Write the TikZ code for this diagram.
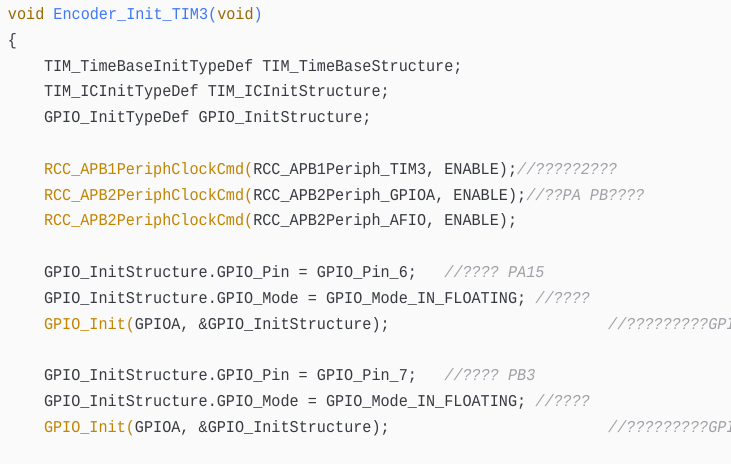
\documentclass[tikz,border=0pt]{standalone}
\usepackage{fontspec}
\setmonofont[FakeStretch=0.919]{Liberation Mono}
\definecolor{bgc}{HTML}{FAFAFA}
\definecolor{txt}{HTML}{383A42}
\definecolor{kw}{HTML}{986801}
\definecolor{fnb}{HTML}{4078F2}
\definecolor{fno}{HTML}{C18401}
\definecolor{cmt}{HTML}{A0A1A7}
\tikzset{
  codeline/.style={anchor=base west, inner sep=0pt, outer sep=0pt, text=txt,
    font=\ttfamily\fontsize{16.5pt}{20pt}\selectfont\frenchspacing},
  cmtline/.style={codeline, text=cmt, font=\ttfamily\itshape\fontsize{16.5pt}{20pt}\selectfont\frenchspacing}
}
\newcommand{\ly}[1]{-19.5pt-(#1-1)*25.8pt}
\newcommand{\cx}[1]{44pt+#1*9.1pt}
\begin{document}
\begin{tikzpicture}[x=1pt,y=1pt]
\fill[bgc] (0,0) rectangle (731,-464);
\useasboundingbox (0,0) rectangle (731,-464);
\begin{scope}
\clip (0,0) rectangle (731,-464);
\node[codeline] (l1) at (8pt,{\ly{1}}) {\textcolor{kw}{void} \textcolor{fnb}{Encoder\_Init\_TIM3(}\textcolor{kw}{void}\textcolor{fnb}{)}};
\node[codeline] (l2) at (8pt,{\ly{2}}) {\{};
\node[codeline] (l3) at (44pt,{\ly{3}}) {TIM\_TimeBaseInitTypeDef TIM\_TimeBaseStructure;};
\node[codeline] (l4) at (44pt,{\ly{4}}) {TIM\_ICInitTypeDef TIM\_ICInitStructure;};
\node[codeline] (l5) at (44pt,{\ly{5}}) {GPIO\_InitTypeDef GPIO\_InitStructure;};
\node[codeline] (l7) at (44pt,{\ly{7}}) {\textcolor{fno}{RCC\_APB1PeriphClockCmd(}RCC\_APB1Periph\_TIM3, ENABLE);};
\node[cmtline] (c7) at ({\cx{52}},{\ly{7}}) {//?????2???};
\node[codeline] (l8) at (44pt,{\ly{8}}) {\textcolor{fno}{RCC\_APB2PeriphClockCmd(}RCC\_APB2Periph\_GPIOA, ENABLE);};
\node[cmtline] (c8) at ({\cx{53}},{\ly{8}}) {//??PA PB????};
\node[codeline] (l9) at (44pt,{\ly{9}}) {\textcolor{fno}{RCC\_APB2PeriphClockCmd(}RCC\_APB2Periph\_AFIO, ENABLE);};
\node[codeline] (l11) at (44pt,{\ly{11}}) {GPIO\_InitStructure.GPIO\_Pin = GPIO\_Pin\_6;};
\node[cmtline] (c11) at ({\cx{44}},{\ly{11}}) {//???? PA15};
\node[codeline] (l12) at (44pt,{\ly{12}}) {GPIO\_InitStructure.GPIO\_Mode = GPIO\_Mode\_IN\_FLOATING;};
\node[cmtline] (c12) at ({\cx{54}},{\ly{12}}) {//????};
\node[codeline] (l13) at (44pt,{\ly{13}}) {\textcolor{fno}{GPIO\_Init(}GPIOA, \&GPIO\_InitStructure);};
\node[cmtline] (c13) at ({\cx{62}},{\ly{13}}) {//?????????GPIO};
\node[codeline] (l15) at (44pt,{\ly{15}}) {GPIO\_InitStructure.GPIO\_Pin = GPIO\_Pin\_7;};
\node[cmtline] (c15) at ({\cx{44}},{\ly{15}}) {//???? PB3};
\node[codeline] (l16) at (44pt,{\ly{16}}) {GPIO\_InitStructure.GPIO\_Mode = GPIO\_Mode\_IN\_FLOATING;};
\node[cmtline] (c16) at ({\cx{54}},{\ly{16}}) {//????};
\node[codeline] (l17) at (44pt,{\ly{17}}) {\textcolor{fno}{GPIO\_Init(}GPIOA, \&GPIO\_InitStructure);};
\node[cmtline] (c17) at ({\cx{62}},{\ly{17}}) {//?????????GPIO};
\end{scope}
\end{tikzpicture}
\end{document}
